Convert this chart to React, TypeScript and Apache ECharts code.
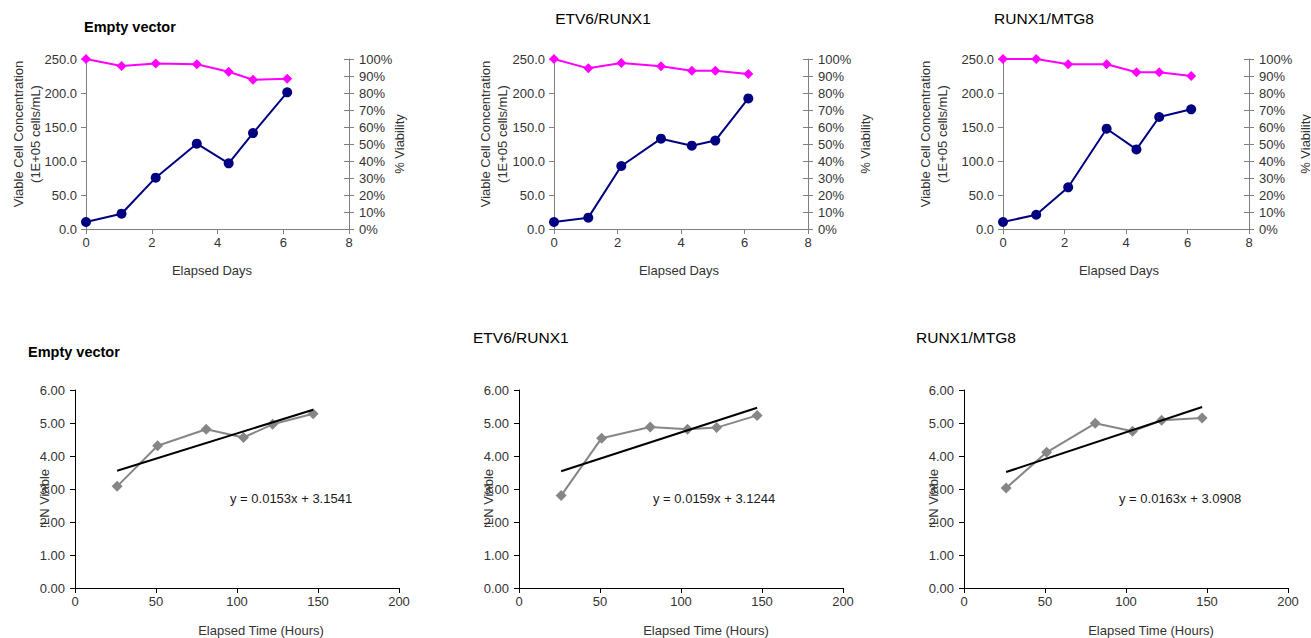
import React, { useEffect, useRef } from "react";
import * as echarts from "echarts";

// ---- Data ----
const chartTitles = ["Empty vector", "ETV6/RUNX1", "RUNX1/MTG8"];
const elapsedDays = [0, 1.08, 2.12, 3.37, 4.34, 5.08, 6.12];
const elapsedHours = [26, 51, 81, 104, 122, 147];

const concEmpty = [10.3, 22.5, 75.5, 125.5, 96.6, 141, 201];
const concEtv = [10.3, 16.7, 92.6, 132.8, 122.5, 130, 192];
const concRunx = [10.3, 21, 61.3, 147.5, 117, 164.7, 176];

const viabEmpty = [100, 95.9, 97.3, 96.9, 92.5, 87.8, 88.4];
const viabEtv = [100, 94.5, 97.6, 95.7, 93.1, 93.1, 91.2];
const viabRunx = [100, 100, 96.9, 96.9, 92.2, 92.2, 90.0];

const lnEmpty = [3.08, 4.31, 4.81, 4.56, 4.96, 5.28];
const lnEtv = [2.8, 4.54, 4.88, 4.81, 4.86, 5.23];
const lnRunx = [3.03, 4.11, 4.99, 4.75, 5.08, 5.15];

const trendSlopes = [0.0153, 0.0159, 0.0163];
const trendIntercepts = [3.1541, 3.1244, 3.0908];
const trendLabels = ["y = 0.0153x + 3.1541", "y = 0.0159x + 3.1244", "y = 0.0163x + 3.0908"];

const concTickLabels = ["0.0", "50.0", "100.0", "150.0", "200.0", "250.0"];
const lnTickLabels = ["0.00", "1.00", "2.00", "3.00", "4.00", "5.00", "6.00"];

const concSets = [concEmpty, concEtv, concRunx];
const viabSets = [viabEmpty, viabEtv, viabRunx];
const lnSets = [lnEmpty, lnEtv, lnRunx];

const FONT = '"Liberation Sans", Arial, Helvetica, sans-serif';
const LABEL = "#333333";
const NAVY = "#000080";
const PINK = "#FF00FF";
const GRAY = "#868686";

function txt(x: number, y: number, text: string, o: any = {}) {
  return {
    type: "text",
    x,
    y,
    rotation: o.rotation || 0,
    silent: true,
    style: {
      text,
      fill: o.fill || "#1a1a1a",
      fontSize: o.fontSize || 13,
      fontFamily: FONT,
      fontWeight: o.fontWeight || "normal",
      align: o.align || "center",
      verticalAlign: "middle",
    },
  };
}

export default function App() {
  const ref = useRef<HTMLDivElement>(null);

  useEffect(() => {
    if (!ref.current) return;
    const chart = echarts.init(ref.current, undefined, { renderer: "svg" });

    const topGrids = [
      { left: 86, width: 263 },
      { left: 554, width: 254 },
      { left: 1003, width: 246 },
    ];
    const botGrids = [
      { left: 75, width: 324 },
      { left: 519, width: 324 },
      { left: 964, width: 324 },
    ];

    const grid: any[] = [];
    topGrids.forEach((g) =>
      grid.push({ left: g.left, width: g.width, top: 59, height: 170, containLabel: false, outerBoundsMode: "none" })
    );
    botGrids.forEach((g) =>
      grid.push({ left: g.left, width: g.width, top: 390, height: 198, containLabel: false, outerBoundsMode: "none" })
    );

    const topAxisLine = { show: true, lineStyle: { color: "#808080", width: 1 } };
    const botAxisLine = { show: true, lineStyle: { color: "#000000", width: 1 } };
    const lbl = (extra: any = {}) => ({ color: LABEL, fontSize: 13, fontFamily: FONT, ...extra });

    const xAxis: any[] = [];
    const yAxis: any[] = [];
    for (let i = 0; i < 3; i++) {
      xAxis.push({
        type: "value",
        gridIndex: i,
        min: 0,
        max: 8,
        interval: 2,
        axisLine: topAxisLine,
        axisTick: { show: true, length: 5, lineStyle: { color: "#808080" } },
        splitLine: { show: false },
        axisLabel: lbl({ margin: 7 }),
      });
    }
    for (let i = 0; i < 3; i++) {
      xAxis.push({
        type: "value",
        gridIndex: 3 + i,
        min: 0,
        max: 200,
        interval: 50,
        axisLine: botAxisLine,
        axisTick: { show: true, length: 5, lineStyle: { color: "#000" } },
        splitLine: { show: false },
        axisLabel: lbl({ margin: 7 }),
      });
    }
    for (let i = 0; i < 3; i++) {
      yAxis.push({
        type: "value",
        gridIndex: i,
        position: "left",
        min: 0,
        max: 250,
        interval: 50,
        axisLine: topAxisLine,
        axisTick: { show: true, length: 5, lineStyle: { color: "#808080" } },
        splitLine: { show: false },
        axisLabel: lbl({ margin: 9, formatter: (v: number) => concTickLabels[Math.round(v / 50)] }),
      });
      yAxis.push({
        type: "value",
        gridIndex: i,
        position: "right",
        min: 0,
        max: 100,
        interval: 10,
        axisLine: topAxisLine,
        axisTick: { show: true, length: 5, lineStyle: { color: "#808080" } },
        splitLine: { show: false },
        axisLabel: lbl({ margin: 10, formatter: (v: number) => `${v}%` }),
      });
      yAxis.push({
        type: "value",
        gridIndex: i,
        position: "right",
        min: 0,
        max: 100,
        interval: 10,
        axisLine: { show: false },
        axisTick: { show: true, inside: true, length: 5, lineStyle: { color: "#808080" } },
        splitLine: { show: false },
        axisLabel: { show: false },
      });
    }
    for (let i = 0; i < 3; i++) {
      yAxis.push({
        type: "value",
        gridIndex: 3 + i,
        min: 0,
        max: 6,
        interval: 1,
        axisLine: botAxisLine,
        axisTick: { show: true, length: 5, lineStyle: { color: "#000" } },
        splitLine: { show: false },
        axisLabel: lbl({ margin: 10, formatter: (v: number) => lnTickLabels[Math.round(v)] }),
      });
    }

    const series: any[] = [];
    for (let i = 0; i < 3; i++) {
      series.push({
        type: "line",
        xAxisIndex: i,
        yAxisIndex: 3 * i,
        data: elapsedDays.map((d, k) => [d, concSets[i][k]]),
        symbol: "circle",
        symbolSize: 10,
        lineStyle: { color: NAVY, width: 2 },
        itemStyle: { color: NAVY },
        z: 3,
      });
      series.push({
        type: "line",
        xAxisIndex: i,
        yAxisIndex: 3 * i + 1,
        data: elapsedDays.map((d, k) => [d, viabSets[i][k]]),
        symbol: "diamond",
        symbolSize: 10,
        lineStyle: { color: PINK, width: 2 },
        itemStyle: { color: PINK },
        z: 3,
      });
    }
    for (let i = 0; i < 3; i++) {
      series.push({
        type: "line",
        xAxisIndex: 3 + i,
        yAxisIndex: 9 + i,
        data: elapsedHours.map((h, k) => [h, lnSets[i][k]]),
        symbol: "diamond",
        symbolSize: 11,
        lineStyle: { color: GRAY, width: 2 },
        itemStyle: { color: GRAY },
        z: 3,
      });
      const h0 = elapsedHours[0];
      const h1 = elapsedHours[elapsedHours.length - 1];
      series.push({
        type: "line",
        xAxisIndex: 3 + i,
        yAxisIndex: 9 + i,
        data: [
          [h0, trendSlopes[i] * h0 + trendIntercepts[i]],
          [h1, trendSlopes[i] * h1 + trendIntercepts[i]],
        ],
        showSymbol: false,
        symbol: "none",
        lineStyle: { color: "#000", width: 2 },
        z: 4,
      });
    }

    const R = Math.PI / 2;
    const graphic: any[] = [
      // top titles
      txt(84, 27, chartTitles[0], { align: "left", fontSize: 14.5, fontWeight: "bold", fill: "#000" }),
      txt(603, 18, chartTitles[1], { fontSize: 15.5, fill: "#000" }),
      txt(1044, 18, chartTitles[2], { fontSize: 15.5, fill: "#000" }),
      // bottom titles
      txt(28, 352, chartTitles[0], { align: "left", fontSize: 14.5, fontWeight: "bold", fill: "#000" }),
      txt(473, 337, chartTitles[1], { align: "left", fontSize: 15.5, fill: "#000" }),
      txt(916, 337, chartTitles[2], { align: "left", fontSize: 15.5, fill: "#000" }),
    ];
    const leftTitleX = [18, 485, 925];
    const rightTitleX = [399, 865, 1305];
    const daysTitleX = [212, 679, 1119];
    for (let i = 0; i < 3; i++) {
      graphic.push(txt(leftTitleX[i], 134, "Viable Cell Concentration", { rotation: R, fill: LABEL }));
      graphic.push(txt(leftTitleX[i] + 17, 134, "(1E+05 cells/mL)", { rotation: R, fill: LABEL }));
      graphic.push(txt(rightTitleX[i], 144, "% Viability", { rotation: R, fill: LABEL }));
      graphic.push(txt(daysTitleX[i], 270, "Elapsed Days", { fill: LABEL }));
    }
    const lnTitleX = [44, 488, 933];
    const eqX = [230, 653, 1119];
    const hoursTitleX = [261, 706, 1151];
    for (let i = 0; i < 3; i++) {
      graphic.push(txt(lnTitleX[i], 497, "LN Viable", { rotation: R, fill: LABEL }));
      graphic.push(txt(eqX[i], 498, trendLabels[i], { align: "left", fill: "#1a1a1a" }));
      graphic.push(txt(hoursTitleX[i], 630, "Elapsed Time (Hours)", { fill: LABEL }));
    }

    chart.setOption({
      animation: false,
      backgroundColor: "#ffffff",
      textStyle: { fontFamily: FONT },
      grid,
      xAxis,
      yAxis,
      series,
      graphic,
    });

    return () => chart.dispose();
  }, []);

  return (
    <div
      ref={ref}
      style={{ position: "absolute", left: 0, top: 0, width: 1311, height: 638, background: "#fff" }}
    />
  );
}
